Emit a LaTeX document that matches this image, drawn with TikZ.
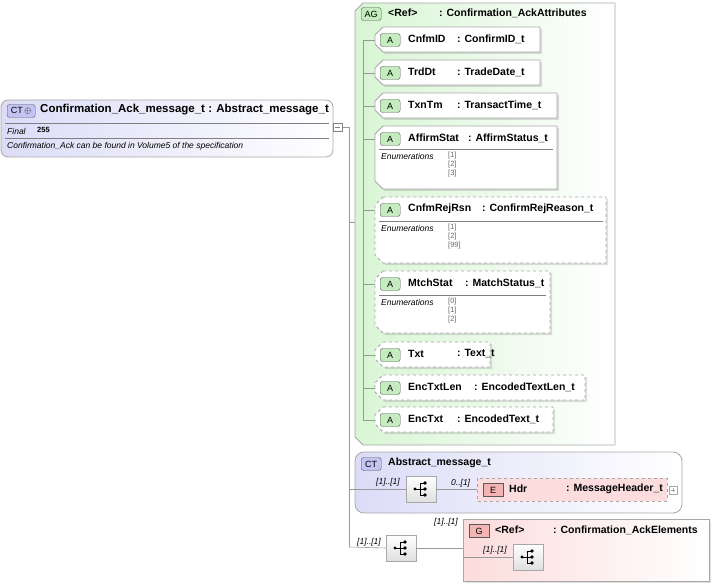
\documentclass[tikz,border=0pt]{standalone}
\usepackage{fontspec}
\setmainfont{Liberation Sans}
\usetikzlibrary{shadows}
\definecolor{agfill}{HTML}{D8F5D4}
\definecolor{ctfill}{HTML}{DCDCF8}
\definecolor{efill}{HTML}{FCDCDC}
\definecolor{bord}{HTML}{A8A8A8}
\definecolor{badgeg}{HTML}{C4ECBE}
\definecolor{badgeb}{HTML}{C4C4F4}
\definecolor{badger}{HTML}{F4B4B4}
\tikzset{
 box/.style={draw=bord,line width=0.8pt},
 conn/.style={draw=gray!80,line width=0.6pt},
 bt/.style={font=\fontsize{10.5}{12}\selectfont\bfseries,anchor=west,inner sep=0pt},
 sm/.style={font=\fontsize{8.5}{10}\selectfont\itshape,anchor=west,inner sep=0pt},
 en/.style={font=\fontsize{7.5}{9}\selectfont,anchor=west,inner sep=0pt,text=gray!80!black},
 badge/.style={draw=gray!70!black,rounded corners=2.5pt,font=\fontsize{9}{10}\selectfont,minimum width=20pt,minimum height=13pt,inner sep=1pt},
 seqbox/.style={draw=bord,top color=white,bottom color=gray!25,minimum width=30pt,minimum height=26pt,inner sep=0pt},
}
\newcommand{\seqicon}[1]{%
 \fill (#1)++(-6,0) circle (1.6);
 \draw[line width=0.6pt] (#1)++(-6,0) -- ++(5,0);
 \draw[line width=0.6pt] (#1)++(-1,-6) -- ++(0,12);
 \draw[line width=0.6pt] (#1)++(-1,-6) -- ++(4,0) (#1)++(-1,0) -- ++(4,0) (#1)++(-1,6) -- ++(4,0);
 \fill (#1)++(4,-6) circle (1.8) (#1)++(4,0) circle (1.8) (#1)++(4,6) circle (1.8);}
% #1 name #2 top #3 bottom #4 right #5 style #6 attr name #7 type #8 type x
\newcommand{\attrbox}[8]{%
 \path[box,#5,fill=white,drop shadow={opacity=0.25,shadow xshift=2pt,shadow yshift=-2pt}]
   (383,#2) -- (#4,#2) -- (#4,#3) -- (383,#3) -- (375,#3-8) -- (375,#2+8) -- cycle;
 \node[badge,fill=badgeg,anchor=west] (#1b) at (380,#2+13) {A};
 \node[bt] (#1) at (408,#2+12) {#6};
 \node[bt] (#1t) at (#8,#2+12) {#7};
 \coordinate (#1c) at (375,#2+13);}
\begin{document}
\begin{tikzpicture}[x=1pt,y=-1pt]
\useasboundingbox (0,0) rectangle (714,585);
% trunk
\coordinate (tr) at (349,127);
\coordinate (tb) at (349,547);
\draw[conn] (343,127) -- (tr) -- (tb);
% main CT
\path[box,rounded corners=7pt,left color=ctfill,right color=white] (1,100) rectangle (333,157);
\node[badge,fill=badgeb,anchor=west,minimum width=28pt] (ctm) at (7,111) {CT\,$\oplus$};
\node[bt,font=\fontsize{11.5}{13}\selectfont\bfseries] (mainn) at (40,110) {Confirmation\_Ack\_message\_t : Abstract\_message\_t};
\draw[gray] (5,123) -- (329,123) (5,138) -- (329,138);
\node[sm] (fin) at (7,131) {Final};
\node[bt,font=\fontsize{7.5}{9}\selectfont\bfseries] (fv) at (37,130) {255};
\node[sm] (desc) at (7,146) {Confirmation\_Ack can be found in Volume5 of the specification};
\draw[gray,fill=white] (333,123) rectangle (342,131); \draw[gray] (335,127) -- (340,127);
% AG
\path[box,left color=agfill,right color=white] (363,3) -- (615,3) -- (615,445) -- (363,445) -- (355,437) -- (355,11) -- cycle;
\node[badge,fill=badgeg,anchor=west] (agb) at (361,14) {AG};
\node[bt] (agr) at (388,13) {<Ref>};
\node[bt] (agn) at (439,13) {: Confirmation\_AckAttributes};
\coordinate (agin) at (355,222);
\draw[conn] (349,222) -- (agin);
\coordinate (it) at (363,40);
\coordinate (ib) at (363,420);
\draw[conn] (it) -- (ib);
\attrbox{a1}{27}{52}{540}{}{CnfmID}{: ConfirmID\_t}{457}
\attrbox{a2}{60}{85}{540}{}{TrdDt}{: TradeDate\_t}{457}
\attrbox{a3}{93}{118}{557}{}{TxnTm}{: TransactTime\_t}{457}
\attrbox{a4}{126}{189}{557}{}{AffirmStat}{: AffirmStatus\_t}{468}
\attrbox{a5}{197}{263}{606}{dashed}{CnfmRejRsn}{: ConfirmRejReason\_t}{482}
\attrbox{a6}{271}{333}{550}{dashed}{MtchStat}{: MatchStatus\_t}{465}
\attrbox{a7}{342}{367}{490}{dashed}{Txt}{: Text\_t}{457}
\attrbox{a8}{375}{400}{585}{dashed}{EncTxtLen}{: EncodedTextLen\_t}{474}
\attrbox{a9}{407}{432}{553}{dashed}{EncTxt}{: EncodedText\_t}{457}
\foreach \n in {a1,a2,a3,a4,a5,a6,a7,a8,a9} {\draw[conn] (it|-\n c) -- (\n c);}
% enumerations
\foreach \t/\r/\v in {149/553/{[1],[2],[3]},221/603/{[1],[2],[99]},295/546/{[0],[1],[2]}} {
  \draw[gray] (379,\t) -- (\r,\t);
  \node[sm] at (381,\t+7) {Enumerations};
  \foreach \e [count=\i] in \v {\node[en] at (448,\t+\i*9-2) {\e};}
}
% CT Abstract
\path[box,rounded corners=9pt,left color=ctfill,right color=white] (355,452) rectangle (682,513);
\node[badge,fill=badgeb,anchor=west] (ctab) at (361,464) {CT};
\node[bt] (ctan) at (388,463) {Abstract\_message\_t};
\node[seqbox] (sq1) at (421,489) {};
\seqicon{sq1}
\draw[conn] (349,489) -- (sq1.west);
\node[sm] at (376,482) {[1]..[1]};
\path[box,dashed,fill=efill] (477,478) rectangle (667,501);
\node[badge,fill=badger,anchor=west,rounded corners=0pt] (eb) at (483,490) {E};
\node[bt] (hdr) at (509,489) {Hdr};
\node[bt] (hdrt) at (566,489) {: MessageHeader\_t};
\draw[conn] (sq1.east) -- (477,489);
\node[sm] at (451,483) {0..[1]};
\draw[gray!70,fill=white] (669,486) rectangle (677,494); \draw[gray!70] (671,490) -- (675,490) (673,488) -- (673,492);
% bottom seq
\node[seqbox] (sq2) at (401,548) {};
\seqicon{sq2}
\draw[conn] (tb) -- (sq2.west);
\node[sm] at (357,542) {[1]..[1]};
% G box
\path[box,left color=efill,right color=white,drop shadow={opacity=0.25,shadow xshift=2pt,shadow yshift=-2pt}] (463,519) rectangle (709,581);
\node[badge,fill=badger,anchor=west,rounded corners=0pt] (gb) at (469,531) {G};
\node[bt] (gr) at (495,530) {<Ref>};
\node[bt] (gn) at (553,530) {: Confirmation\_AckElements};
\draw[conn] (sq2.east) -- (463,548);
\node[sm] at (434,522) {[1]..[1]};
\node[seqbox] (sq3) at (528,557) {};
\seqicon{sq3}
\draw[conn] (463,557) -- (sq3.west);
\node[sm] at (483,550) {[1]..[1]};
\end{tikzpicture}
\end{document}
